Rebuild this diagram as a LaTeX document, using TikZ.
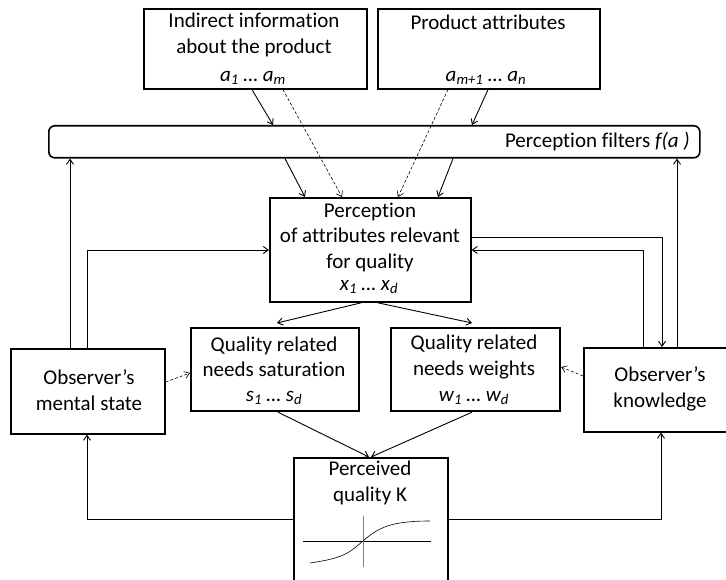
\documentclass[tikz,border=0pt]{standalone}
\usepackage{fontspec}
\setmainfont{Carlito}[Ligatures={NoCommon}]
\usetikzlibrary{arrows.meta,calc}
\begin{document}
\begin{tikzpicture}[x=1pt,y=-1pt,
  box/.style={draw,line width=1.6pt,inner sep=0pt},
  qbox/.style={draw,line width=2.2pt,inner sep=0pt},
  txt/.style={font=\fontsize{21}{25.5}\selectfont,align=center,inner sep=0pt},
  arr/.style={-{Straight Barb[length=5pt,width=7pt]},line width=0.9pt},
  darr/.style={arr,densely dashed,line width=0.6pt},
  ax/.style={line width=0.6pt}]
\useasboundingbox (0,0) rectangle (726,580);
% boxes
\node[box,minimum width=223pt,minimum height=80pt,anchor=north west] (ind) at (143,8) {};
\node[box,minimum width=222pt,minimum height=80pt,anchor=north west] (prod) at (377,8) {};
\node[draw,line width=1.6pt,rounded corners=6pt,minimum width=651pt,minimum height=32pt,anchor=north west,inner sep=0pt] (filt) at (48,125) {};
\node[box,minimum width=201pt,minimum height=104pt,anchor=north west] (perc) at (269,197) {};
\node[qbox,minimum width=168pt,minimum height=83pt,anchor=north west] (sat) at (190,327) {};
\node[qbox,minimum width=169pt,minimum height=83pt,anchor=north west] (wts) at (390,327) {};
\node[box,minimum width=154pt,minimum height=85pt,anchor=north west] (ment) at (10,348) {};
\node[box,minimum width=145pt,minimum height=84pt,anchor=north west] (know) at (583,347) {};
\node[box,minimum width=154pt,minimum height=130pt,anchor=north west] (pq) at (293,457) {};
% texts
\node[txt] (indt) at (254,35) {Indirect information\\about the product};
\node[txt] (indv) at (253,78) {\itshape a\textsubscript{1} … a\textsubscript{m}};
\node[txt] (prodt) at (488,22) {Product attributes};
\node[txt] (prodv) at (486,78) {\itshape a\textsubscript{m+1} … a\textsubscript{n}};
\node[txt,anchor=east] (filtt) at (690,142) {Perception filters \textit{f(a )}};
\node[txt] (perct) at (370,237) {Perception\\of attributes relevant\\for quality};
\node[txt] (percv) at (369,287) {\itshape x\textsubscript{1} … x\textsubscript{d}};
\node[txt] (satt) at (274,357) {Quality related\\needs saturation};
\node[txt] (satv) at (274,398) {\itshape s\textsubscript{1} … s\textsubscript{d}};
\node[txt] (wtst) at (474,357) {Quality related\\needs weights};
\node[txt] (wtsv) at (474,398) {\itshape w\textsubscript{1} … w\textsubscript{d}};
\node[txt] (mentt) at (89,390) {Observer’s\\mental state};
\node[txt] (knowt) at (660,389) {Observer’s\\knowledge};
\node[txt] (pqt) at (370,483) {Perceived\\quality K};
% sigmoid graph
\draw[ax] (303,541) -- (431,541);
\draw[ax,gray] (363,516) -- (363,567);
\draw[ax] (310,563) .. controls (345,558) and (350,552) .. (363,541) .. controls (378,528) and (390,521) .. (430,521);
% arrows from top
\draw[arr] (252,0 |- ind.south) -- (273,0 |- filt.north);
\draw[darr] (283,0 |- ind.south) -- (342,0 |- perc.north);
\draw[arr] (285,0 |- filt.south) -- (305,0 |- perc.north);
\draw[darr] (448,0 |- prod.south) -- (398,0 |- perc.north);
\draw[arr] (488,0 |- prod.south) -- (472,0 |- filt.north);
\draw[arr] (453,0 |- filt.south) -- (438,0 |- perc.north);
% perception to needs
\draw[arr] (362,0 |- perc.south) -- (277,323);
\draw[arr] (377,0 |- perc.south) -- (472,323);
\draw[arr] (278,0 |- sat.south) -- (369,0 |- pq.north);
\draw[arr] (472,0 |- wts.south) -- (371,0 |- pq.north);
% observer mental state
\draw[arr] (70,0 |- ment.north) -- (70,0 |- filt.south);
\draw[arr] (87,0 |- ment.north) |- (perc.west |- 0,250);
\draw[darr] (ment.east |- 0,382) -- (sat.west |- 0,373);
% observer knowledge
\draw[arr] (perc.east |- 0,237) -| (662,0 |- know.north);
\draw[arr] (643,0 |- know.north) |- (perc.east |- 0,250);
\draw[arr] (677,0 |- know.north) -- (677,0 |- filt.south);
\draw[darr] (know.west |- 0,376) -- (wts.east |- 0,367);
% feedback from perceived quality
\draw[arr] (pq.west |- 0,519) -| (87,0 |- ment.south);
\draw[arr] (pq.east |- 0,519) -| (661,0 |- know.south);
\end{tikzpicture}
\end{document}
